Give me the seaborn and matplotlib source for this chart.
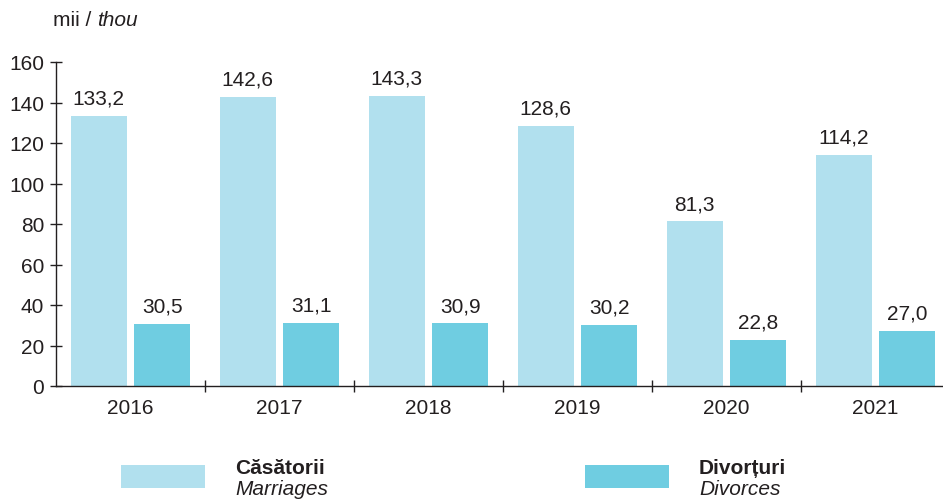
"""Marriages and divorces, 2016-2021."""

import matplotlib

matplotlib.use("Agg")
import matplotlib.pyplot as plt
import pandas as pd
import seaborn as sns
from matplotlib.patches import Rectangle
from matplotlib.ticker import FixedLocator

YEARS = ["2016", "2017", "2018", "2019", "2020", "2021"]
MARRIAGES = [133.2, 142.6, 143.3, 128.6, 81.3, 114.2]
DIVORCES = [30.5, 31.1, 30.9, 30.2, 22.8, 27.0]
SERIES = ["Căsătorii", "Divorțuri"]
SERIES_EN = ["Marriages", "Divorces"]
PALETTE = {"Căsătorii": "#b1e0ee", "Divorțuri": "#6fcde1"}
INK = "#231f20"
FS = 15

sns.set_style("white")
plt.rcParams["font.family"] = ["Liberation Sans", "DejaVu Sans"]

df = pd.DataFrame({
    "year": YEARS * 2,
    "value": MARRIAGES + DIVORCES,
    "series": [SERIES[0]] * len(YEARS) + [SERIES[1]] * len(YEARS),
})

fig = plt.figure(figsize=(9.43, 5.02), dpi=100)
# the last group runs a little past the right edge of the picture, as in the source
ax = fig.add_axes([56 / 943, 115 / 502, 894 / 943, 324 / 502])

sns.barplot(data=df, x="year", y="value", hue="series", order=YEARS,
            hue_order=SERIES, palette=PALETTE, saturation=1, gap=0.11,
            width=0.85, linewidth=0, legend=False, ax=ax)

for container in ax.containers:
    ax.bar_label(container, fmt=lambda v: f"{v:.1f}".replace(".", ","),
                 padding=6, fontsize=FS, color=INK)

ax.set_xlim(-0.5, len(YEARS) - 0.5)
ax.set_ylim(0, 160)
ax.set_yticks(range(0, 161, 20))
ax.set_xlabel("")
ax.set_ylabel("")
ax.tick_params(axis="x", which="major", length=0, labelsize=FS, pad=9, labelcolor=INK)
ax.xaxis.set_minor_locator(FixedLocator([i + 0.5 for i in range(len(YEARS) - 1)]))
ax.tick_params(axis="x", which="minor", bottom=True, direction="inout",
               length=9, width=1, color=INK)
ax.tick_params(axis="y", direction="inout", length=9, width=1, color=INK,
               labelsize=FS, pad=4, labelcolor=INK, left=True)
for side in ["top", "right"]:
    ax.spines[side].set_visible(False)
for side in ["left", "bottom"]:
    ax.spines[side].set_color(INK)
    ax.spines[side].set_linewidth(1)

# unit label: upright "mii / " followed by italic "thou"
renderer = fig.canvas.get_renderer()
unit = fig.text(53 / 943, 1 - 20 / 502, "mii / ", fontsize=FS, color=INK, va="center")
w = unit.get_window_extent(renderer).width / fig.bbox.width
fig.text(53 / 943 + w, 1 - 20 / 502, "thou", fontsize=FS, color=INK,
         va="center", style="italic")

# legend
for i, name in enumerate(SERIES):
    x0 = [121, 585][i]
    fig.add_artist(Rectangle((x0 / 943, 1 - 489 / 502), 84 / 943, 23 / 502,
                             transform=fig.transFigure, color=PALETTE[name], lw=0))
    fig.text((x0 + 114) / 943, 1 - 469 / 502, name, fontsize=FS, weight="bold",
             color=INK, va="center")
    fig.text((x0 + 114) / 943, 1 - 490 / 502, SERIES_EN[i], fontsize=FS,
             style="italic", color=INK, va="center")

fig.savefig("out.png", dpi=100)
